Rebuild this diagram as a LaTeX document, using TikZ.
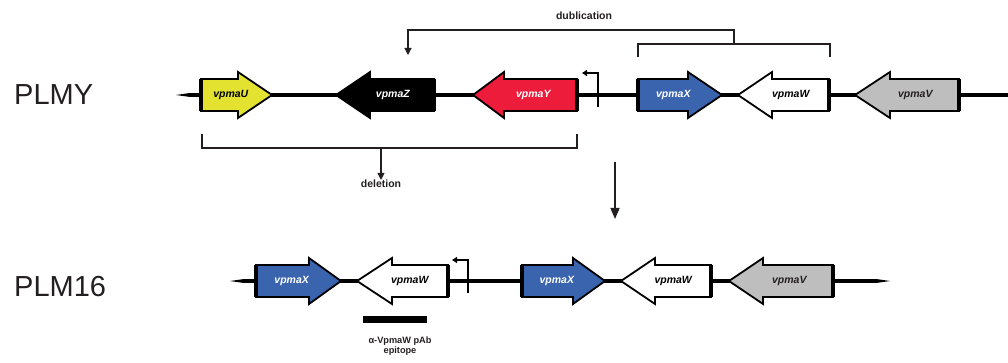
\documentclass[tikz,border=0pt]{standalone}
\usepackage{fontspec}
\setmainfont{Liberation Sans}
\usepackage{tikz}
\usetikzlibrary{arrows.meta}

\definecolor{geneyellow}{RGB}{228,226,48}
\definecolor{genered}{RGB}{236,28,58}
\definecolor{geneblue}{RGB}{58,100,174}
\definecolor{genegray}{RGB}{190,190,190}
\definecolor{inkgray}{RGB}{35,31,32}

% gene arrow: name, far end, head base, tip, y, fill, text colour, label
\newcommand{\gene}[8]{
    \draw [genebody, fill=#6] (#2,#5-16) -- (#3,#5-16) -- (#3,#5-23) -- (#4,#5) -- (#3,#5+23) -- (#3,#5+16) -- (#2,#5+16) -- cycle;
    \draw [endbar] (#2,#5-16) -- (#2,#5+16);
    \node [genelabel, text=#7] (#1) at ({#2+0.42*(#4-#2)},#5) {#8};
}

\tikzset{
    backbone/.style={line width=4pt},
    genebody/.style={draw=black, line width=1.8pt, line join=miter},
    endbar/.style={line width=4pt},
    genelabel/.style={inner sep=0pt, font=\fontsize{10.5}{12}\selectfont\bfseries\itshape},
    bracket/.style={draw=inkgray, line width=1.1pt},
    smalltext/.style={inner sep=0pt, text=inkgray, font=\fontsize{10.5}{12}\selectfont\bfseries},
    plasmid/.style={anchor=base west, inner sep=0pt, text=inkgray, font=\fontsize{29}{33}\selectfont},
    promoter/.style={line width=2.2pt, -{Triangle[length=5pt, width=6pt]}},
}

\begin{document}
\begin{tikzpicture}[x=1pt, y=-1pt]
    \useasboundingbox (0,0) rectangle (1008,363);

    % PLMY
    \node [plasmid] (plmy) at (14,105) {PLMY};
    \fill (176,95) -- (190,93) -- (190,97) -- cycle;
    \draw [backbone] (189,95) -- (1008,95);
    \gene{vpmaU}{201}{238}{272}{95}{geneyellow}{black}{vpmaU}
    \gene{vpmaZ}{434}{370}{336}{95}{black}{white}{vpmaZ}
    \gene{vpmaY}{577}{504}{473}{95}{genered}{white}{vpmaY}
    \gene{vpmaXa}{638}{688}{722}{95}{geneblue}{white}{vpmaX}
    \gene{vpmaWa}{829}{772}{738}{95}{white}{black}{vpmaW}
    \gene{vpmaVa}{959}{890}{855}{95}{genegray}{inkgray}{vpmaV}
    \coordinate (pa) at (598,107);
    \draw [promoter] (pa) -- (598,73) -- (582,73);

    % dublication
    \node [smalltext] (dub) at (584,16) {dublication};
    \coordinate (dl) at (638,57);
    \coordinate (dr) at (830,57);
    \coordinate (dtarget) at (408,55);
    \draw [bracket] (dl) -- (638,44) -- (830,44) -- (dr);
    \draw [bracket, -{Triangle[length=7pt, width=7pt]}] (734,44) -- (734,30) -- (408,30) -- (dtarget);

    % deletion
    \node [smalltext] (del) at (381,184) {deletion};
    \coordinate (el) at (202,134);
    \coordinate (er) at (577,134);
    \draw [bracket] (el) -- (202,148) -- (577,148) -- (er);
    \draw [bracket, -{Triangle[length=7pt, width=7pt]}] (381,148) -- (del.north);

    % big arrow
    \coordinate (top) at (615,162);
    \coordinate (bottom) at (615,219);
    \draw [line width=1.5pt, inkgray, -{Triangle[length=11pt, width=9pt]}] (top) -- (bottom);

    % PLM16
    \node [plasmid] (plm16) at (14,296) {PLM16};
    \fill (230,281) -- (244,279) -- (244,283) -- cycle;
    \fill (890,281) -- (876,279) -- (876,283) -- cycle;
    \draw [backbone] (243,281) -- (877,281);
    \gene{vpmaXb}{256}{309}{341}{281}{geneblue}{white}{vpmaX}
    \gene{vpmaWb}{448}{392}{357}{281}{white}{black}{vpmaW}
    \gene{vpmaXc}{522}{573}{605}{281}{geneblue}{white}{vpmaX}
    \gene{vpmaWc}{711}{655}{621}{281}{white}{black}{vpmaW}
    \gene{vpmaVb}{833}{763}{729}{281}{genegray}{inkgray}{vpmaV}
    \coordinate (pb) at (468,293);
    \draw [promoter] (pb) -- (468,260) -- (452,260);

    % epitope
    \node [fill=black, minimum width=64pt, minimum height=7pt, inner sep=0pt] (bar) at (395,319.5) {};
    \node [smalltext, align=center, font=\fontsize{9.2}{10}\selectfont\bfseries] (pab) at (400,346) {α-VpmaW pAb\\epitope};
\end{tikzpicture}
\end{document}
